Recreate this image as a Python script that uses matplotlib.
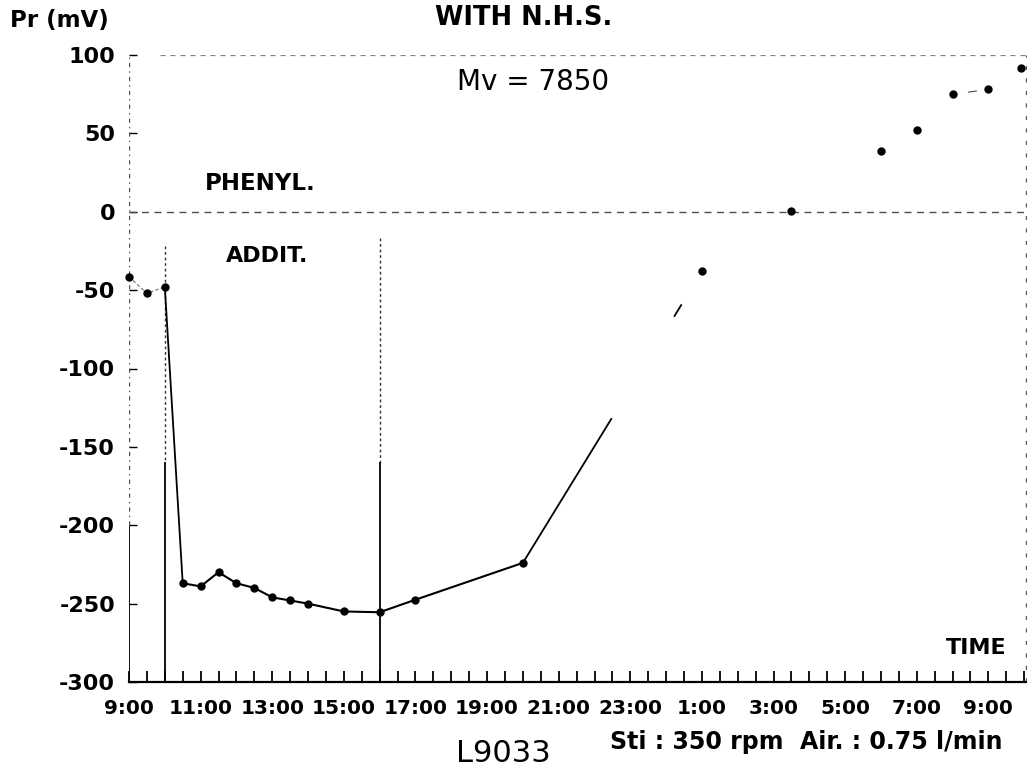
import matplotlib.pyplot as plt

# time in hours after 9:00, potential Pr in mV
pre_t = [0.0, 0.5, 1.0]
pre_mv = [-41.5, -52, -48]
run_t = [1.5, 2.0, 2.5, 3.0, 3.5, 4.0, 4.5, 5.0, 6.0, 7.0, 8.0, 11.0]
run_mv = [-237, -239, -230, -237, -240, -246, -248, -250, -255, -255.5, -247.5, -224]
late_t = [16.0, 18.5, 21.0, 22.0, 23.0, 24.0, 24.9]
late_mv = [-38, 0.5, 39, 52, 75, 78, 92]
addition_t = [1.0, 7.0]
addition_top = [-22, -17]

tick_hours = list(range(0, 25, 2))
tick_labels = ["9:00", "11:00", "13:00", "15:00", "17:00", "19:00", "21:00",
               "23:00", "1:00", "3:00", "5:00", "7:00", "9:00"]
ytick_vals = [100, 50, 0, -50, -100, -150, -200, -250, -300]

plt.rcParams["font.family"] = ["DejaVu Sans"]
fig = plt.figure(figsize=(10.27, 7.68), dpi=100)
ax = fig.add_axes([129 / 1027, 1 - 682 / 768, (1026 - 129) / 1027, (682 - 55) / 768])
ax.set_xlim(0, 25.05)
ax.set_ylim(-300, 100)

# frame
for s in ["left", "top", "right"]:
    ax.spines[s].set_visible(False)
ax.spines["bottom"].set_linewidth(1.6)
ax.axvline(0, ymin=0, ymax=0.25, color="black", lw=1.3)
ax.axvline(0, ymin=0.25, ymax=1, color="0.3", lw=1.0, ls=(0, (3, 3, 1, 3)))
ax.axhline(100, xmin=0.035, color="0.5", lw=0.9, ls=(0, (4, 4)))
ax.axvline(25.05, color="0.35", lw=1.0, ls=(0, (3, 6)), clip_on=False)
ax.axhline(0, color="0.3", lw=1.0, ls=(0, (5, 4)))

# additions
for t, top in zip(addition_t, addition_top):
    ax.plot([t, t], [top, -160], color="0.2", lw=1.0, ls=(0, (2, 2)))
    ax.plot([t, t], [-160, -300], color="black", lw=1.3)

# data
ax.plot(pre_t, pre_mv, color="0.45", lw=0.8, ls=(0, (3, 2)),
        marker="o", ms=5, mfc="black", mec="black", clip_on=False)
ax.plot([pre_t[-1], run_t[0]], [pre_mv[-1], run_mv[0]], color="black", lw=1.3)
ax.plot(run_t, run_mv, color="black", lw=1.5, marker="o", ms=5)
ax.plot([run_t[-1], late_t[0]], [run_mv[-1], late_mv[0]], color="black", lw=1.3,
        ls=(0, (94, 66, 8, 200)))
ax.plot([late_t[4], late_t[5]], [late_mv[4], late_mv[5]], color="0.3", lw=0.8,
        ls=(34, (8, 40)))
ax.plot(late_t, late_mv, ls="none", color="black", marker="o", ms=5, clip_on=False)

# ticks
ax.set_xticks(tick_hours)
ax.set_xticklabels(tick_labels, fontsize=14.5, fontweight="bold")
ax.set_xticks([h / 2 for h in range(0, 51)], minor=True)
ax.tick_params(axis="x", which="both", direction="in", length=8, width=1.3, pad=12)
ax.set_yticks(ytick_vals)
ax.set_yticklabels([str(v) for v in ytick_vals], fontsize=16, fontweight="bold")
ax.tick_params(axis="y", direction="in", length=6, width=1.0, pad=10)

# texts
fig.text(10 / 1027, 1 - 21 / 768, "Pr (mV)", fontsize=16.5, fontweight="bold", va="center")
fig.text(524 / 1027, 1 - 18 / 768, "WITH N.H.S.", fontsize=18.5, fontweight="bold",
         ha="center", va="center")
fig.text(533 / 1027, 1 - 82 / 768, "Mv = 7850", fontsize=20, ha="center", va="center")
fig.text(205 / 1027, 1 - 184 / 768, "PHENYL.", fontsize=16.5, fontweight="bold", va="center")
fig.text(226 / 1027, 1 - 256 / 768, "ADDIT.", fontsize=16, fontweight="bold", va="center")
fig.text(1007 / 1027, 1 - 648 / 768, "TIME", fontsize=16, fontweight="bold",
         ha="right", va="center")
fig.text(1002 / 1027, 1 - 742 / 768, "Sti : 350 rpm  Air. : 0.75 l/min", fontsize=17,
         fontweight="bold", ha="right", va="center")
fig.text(503 / 1027, 1 - 754 / 768, "L9033", fontsize=22, ha="center", va="center")

fig.savefig("out.png", dpi=100)
